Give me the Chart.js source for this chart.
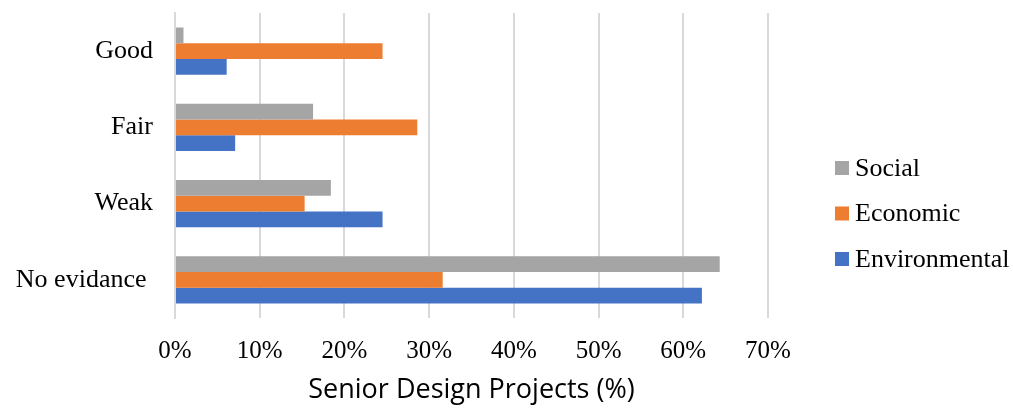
<!DOCTYPE html>
<html>
<head>
<meta charset="utf-8">
<script src="https://cdn.jsdelivr.net/npm/chart.js@4"></script>
<style>
  html, body { margin: 0; padding: 0; background: #fff; }
  #wrap { width: 1013px; height: 409px; }
</style>
</head>
<body>
<div id="wrap"><canvas id="quality"></canvas></div>
<script>
const categories = ["Good", "Fair", "Weak", "No evidance "];
const social = [1.0, 16.3, 18.4, 64.3];
const economic = [24.5, 28.6, 15.3, 31.6];
const environmental = [6.1, 7.1, 24.5, 62.2];
const xTicks = [0, 10, 20, 30, 40, 50, 60, 70];

const SERIF = "'Liberation Serif', 'Times New Roman', serif";

// legend drawn as a stacked list to the right of the plot
const sideLegend = {
  id: 'sideLegend',
  afterDraw(chart) {
    const ctx = chart.ctx;
    ctx.save();
    ctx.font = "26px " + SERIF;
    ctx.textBaseline = 'middle';
    ctx.textAlign = 'left';
    chart.data.datasets.forEach((ds, i) => {
      const y = 168 + i * 45.5;
      ctx.fillStyle = ds.backgroundColor;
      ctx.fillRect(835, y - 7, 14, 14);
      ctx.fillStyle = '#000';
      ctx.fillText(ds.label, 855, y + 1);
    });
    ctx.restore();
  }
};

new Chart(document.getElementById('quality'), {
  type: 'bar',
  data: {
    labels: categories,
    datasets: [
      { label: 'Social', data: social, backgroundColor: '#a5a5a5' },
      { label: 'Economic', data: economic, backgroundColor: '#ed7d31' },
      { label: 'Environmental', data: environmental, backgroundColor: '#4472c4' }
    ]
  },
  options: {
    indexAxis: 'y',
    responsive: true,
    maintainAspectRatio: false,
    animation: false,
    categoryPercentage: 0.62,
    barPercentage: 1.0,
    layout: { padding: { top: 13, right: 245, bottom: 0, left: 0 } },
    plugins: {
      legend: { display: false },
      tooltip: { enabled: false }
    },
    scales: {
      x: {
        min: 0,
        max: 70,
        afterBuildTicks(scale) {
          scale.ticks = xTicks.map(v => ({ value: v }));
        },
        afterFit(scale) {
          scale.height = 91;
          scale.paddingLeft = 0;
          scale.paddingRight = 0;
        },
        grid: { color: '#d9d9d9', lineWidth: 2, drawTicks: false },
        border: { display: false },
        ticks: {
          padding: 18,
          color: '#000',
          font: { family: SERIF, size: 25 },
          callback: v => v + '%'
        },
        title: {
          display: true,
          text: 'Senior Design Projects (%)',
          color: '#000',
          font: { family: "'Open Sans', sans-serif", size: 27 },
          padding: { top: 2, bottom: 2 }
        }
      },
      y: {
        afterFit(scale) {
          scale.width = 175;
          scale.paddingTop = 0;
          scale.paddingBottom = 0;
        },
        grid: { display: false, drawTicks: false },
        border: { display: true, color: '#d9d9d9', width: 2 },
        ticks: {
          padding: 22,
          color: '#000',
          font: { family: SERIF, size: 26 }
        }
      }
    }
  },
  plugins: [sideLegend]
});
</script>
</body>
</html>
